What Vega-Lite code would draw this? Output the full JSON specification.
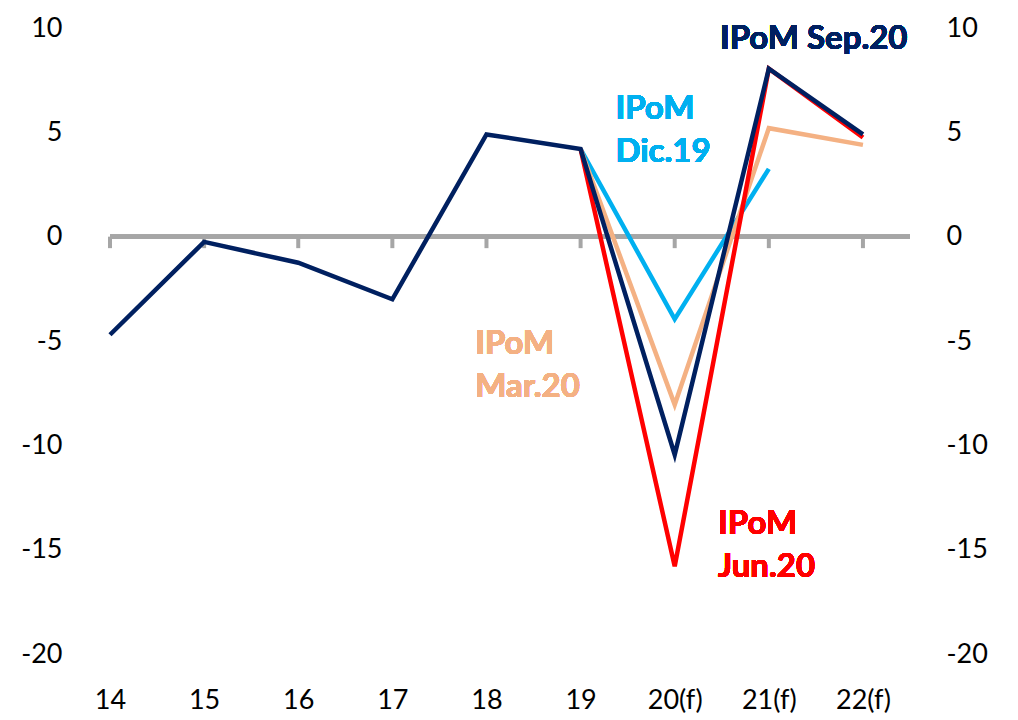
{
  "$schema": "https://vega.github.io/schema/vega-lite/v6.json",
  "autosize": {"type": "none"},
  "width": 800,
  "height": 626,
  "padding": {"left": 110, "top": 28, "right": 108, "bottom": 66},
  "background": "white",
  "config": {"view": {"stroke": null}, "font": "Lato"},
  "data": {"values": [
    {"series": "IPoM Dic.19", "year": 19, "value": 4.2},
    {"series": "IPoM Dic.19", "year": 20, "value": -3.95},
    {"series": "IPoM Dic.19", "year": 21, "value": 3.25},
    {"series": "IPoM Mar.20", "year": 19, "value": 4.2},
    {"series": "IPoM Mar.20", "year": 20, "value": -8.05},
    {"series": "IPoM Mar.20", "year": 21, "value": 5.2},
    {"series": "IPoM Mar.20", "year": 22, "value": 4.4},
    {"series": "IPoM Jun.20", "year": 19, "value": 4.2},
    {"series": "IPoM Jun.20", "year": 20, "value": -15.8},
    {"series": "IPoM Jun.20", "year": 21, "value": 8.05},
    {"series": "IPoM Jun.20", "year": 22, "value": 4.75},
    {"series": "IPoM Sep.20", "year": 14, "value": -4.7},
    {"series": "IPoM Sep.20", "year": 15, "value": -0.25},
    {"series": "IPoM Sep.20", "year": 16, "value": -1.25},
    {"series": "IPoM Sep.20", "year": 17, "value": -3.0},
    {"series": "IPoM Sep.20", "year": 18, "value": 4.9},
    {"series": "IPoM Sep.20", "year": 19, "value": 4.2},
    {"series": "IPoM Sep.20", "year": 20, "value": -10.45},
    {"series": "IPoM Sep.20", "year": 21, "value": 8.05},
    {"series": "IPoM Sep.20", "year": 22, "value": 4.9}
  ]},
  "layer": [
    {
      "mark": {"type": "rule", "color": "#A6A6A6", "strokeWidth": 4},
      "encoding": {
        "y": {"datum": 0, "type": "quantitative", "scale": {"domain": [-20, 10]},
          "axis": {"orient": "right", "values": [-20, -15, -10, -5, 0, 5, 10], "labelExpr": "'' + datum.value", "domain": false, "ticks": false, "grid": false, "title": null, "labelFontSize": 27, "labelColor": "#000000", "labelPadding": 36, "labelAlign": "left"}}
      }
    },
    {
      "transform": [{"filter": "datum.series === 'IPoM Sep.20'"}],
      "mark": {"type": "rule", "color": "#A6A6A6", "strokeWidth": 4},
      "encoding": {
        "x": {"field": "year", "type": "quantitative", "scale": {"domain": [14, 22.5], "nice": false, "zero": false},
          "axis": {"values": [14, 15, 16, 17, 18, 19, 20, 21, 22], "labelExpr": "datum.value >= 20 ? datum.value + '(f)' : '' + datum.value", "labelFlush": false, "domain": false, "ticks": false, "grid": false, "title": null, "labelFontSize": 27, "labelColor": "#000000", "labelPadding": 33}},
        "y": {"datum": 0, "type": "quantitative", "axis": null},
        "y2": {"datum": -0.55}
      }
    },
    {
      "mark": {"type": "line", "strokeWidth": 4.5, "strokeJoin": "miter"},
      "encoding": {
        "x": {"field": "year", "type": "quantitative",
          "axis": {"values": [14, 15, 16, 17, 18, 19, 20, 21, 22], "labelExpr": "datum.value >= 20 ? datum.value + '(f)' : '' + datum.value", "labelFlush": false, "domain": false, "ticks": false, "grid": false, "title": null, "labelFontSize": 27, "labelColor": "#000000", "labelPadding": 33}},
        "y": {"field": "value", "type": "quantitative",
          "axis": {"orient": "left", "values": [-20, -15, -10, -5, 0, 5, 10], "labelExpr": "'' + datum.value", "domain": false, "ticks": false, "grid": false, "title": null, "labelFontSize": 27, "labelColor": "#000000", "labelPadding": 48}},
        "color": {"field": "series", "type": "nominal", "legend": null,
          "scale": {"domain": ["IPoM Dic.19", "IPoM Mar.20", "IPoM Jun.20", "IPoM Sep.20"], "range": ["#00B0F0", "#F4B183", "#FF0000", "#002060"]}},
        "order": {"field": "year", "type": "quantitative"}
      }
    },
    {
      "mark": {"type": "text", "align": "left", "baseline": "middle", "fontSize": 33, "fontWeight": "bold", "color": "#002060"},
      "encoding": {"x": {"datum": 20.48, "type": "quantitative", "axis": {"values": [14, 15, 16, 17, 18, 19, 20, 21, 22], "labelExpr": "datum.value >= 20 ? datum.value + '(f)' : '' + datum.value", "labelFlush": false, "domain": false, "ticks": false, "grid": false, "title": null, "labelFontSize": 27, "labelColor": "#000000", "labelPadding": 33}}, "y": {"datum": 9.49, "type": "quantitative", "axis": null}, "text": {"value": "IPoM Sep.20"}}
    },
    {
      "mark": {"type": "text", "align": "left", "baseline": "middle", "fontSize": 33, "fontWeight": "bold", "color": "#00B0F0", "lineHeight": 43},
      "encoding": {"x": {"datum": 19.37, "type": "quantitative", "axis": {"values": [14, 15, 16, 17, 18, 19, 20, 21, 22], "labelExpr": "datum.value >= 20 ? datum.value + '(f)' : '' + datum.value", "labelFlush": false, "domain": false, "ticks": false, "grid": false, "title": null, "labelFontSize": 27, "labelColor": "#000000", "labelPadding": 33}}, "y": {"datum": 6.13, "type": "quantitative", "axis": null}, "text": {"value": ["IPoM", "Dic.19"]}}
    },
    {
      "mark": {"type": "text", "align": "left", "baseline": "middle", "fontSize": 33, "fontWeight": "bold", "color": "#F4B183", "lineHeight": 43},
      "encoding": {"x": {"datum": 17.88, "type": "quantitative", "axis": {"values": [14, 15, 16, 17, 18, 19, 20, 21, 22], "labelExpr": "datum.value >= 20 ? datum.value + '(f)' : '' + datum.value", "labelFlush": false, "domain": false, "ticks": false, "grid": false, "title": null, "labelFontSize": 27, "labelColor": "#000000", "labelPadding": 33}}, "y": {"datum": -5.13, "type": "quantitative", "axis": null}, "text": {"value": ["IPoM", "Mar.20"]}}
    },
    {
      "mark": {"type": "text", "align": "left", "baseline": "middle", "fontSize": 33, "fontWeight": "bold", "color": "#FF0000", "lineHeight": 43},
      "encoding": {"x": {"datum": 20.46, "type": "quantitative", "axis": {"values": [14, 15, 16, 17, 18, 19, 20, 21, 22], "labelExpr": "datum.value >= 20 ? datum.value + '(f)' : '' + datum.value", "labelFlush": false, "domain": false, "ticks": false, "grid": false, "title": null, "labelFontSize": 27, "labelColor": "#000000", "labelPadding": 33}}, "y": {"datum": -13.75, "type": "quantitative", "axis": null}, "text": {"value": ["IPoM", "Jun.20"]}}
    }
  ]
}
